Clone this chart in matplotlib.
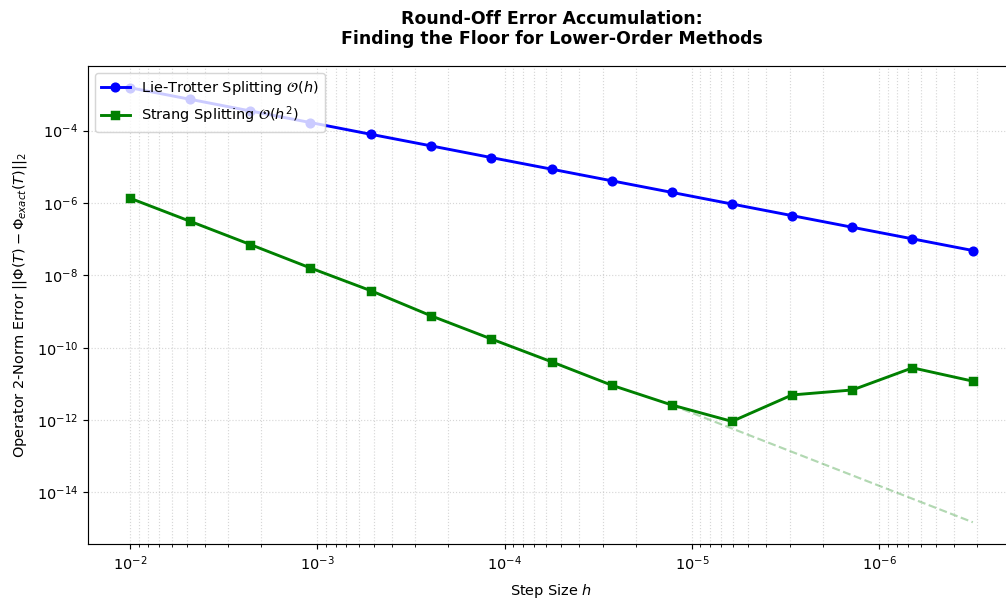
import numpy as np
import matplotlib
matplotlib.use("Agg")
import matplotlib.pyplot as plt

# Step sizes (log-spaced from 1e-2 to 10^-6.5)
h = [1.0e-2, 4.77e-3, 2.28e-3, 1.09e-3, 5.18e-4, 2.47e-4, 1.18e-4, 5.62e-5,
     2.68e-5, 1.28e-5, 6.11e-6, 2.92e-6, 1.39e-6, 6.64e-7, 3.16e-7]

lie_trotter = [1.53e-3, 7.3e-4, 3.49e-4, 1.67e-4, 7.9e-5, 3.78e-5, 1.80e-5, 8.6e-6,
               4.1e-6, 1.96e-6, 9.35e-7, 4.47e-7, 2.13e-7, 1.02e-7, 4.85e-8]

strang = [1.35e-6, 3.1e-7, 7.1e-8, 1.6e-8, 3.76e-9, 7.6e-10, 1.75e-10, 4.09e-11,
          9.2e-12, 2.61e-12, 9.2e-13, 4.95e-12, 6.8e-12, 2.78e-11, 1.19e-11]

# Ideal O(h^2) reference segment endpoints
ideal_h = [1.28e-5, 3.16e-7]
ideal_err = [2.6e-12, 1.5e-15]

DPI = 104
fig = plt.figure(figsize=(1006 / DPI, 601 / DPI), dpi=DPI)
ax = fig.add_axes([88/1006, 1 - 544/601, (1015 - 88)/1006, (544 - 66)/601])

ax.loglog(h, lie_trotter, 'o-', color='blue', lw=2, ms=6,
          label=r'Lie-Trotter Splitting $\mathcal{O}(h)$')
ax.loglog(h, strang, 's-', color='green', lw=2, ms=6,
          label=r'Strang Splitting $\mathcal{O}(h^2)$')
ax.loglog(ideal_h, ideal_err, '--', color='green', alpha=0.3, lw=1.5)

ax.invert_xaxis()
ax.grid(True, which='both', linestyle=':', linewidth=0.8, alpha=0.5)

ax.set_xlabel(r'Step Size $h$', labelpad=6.5)
ax.set_ylabel(r'Operator 2-Norm Error $||\Phi(T) - \Phi_{exact}(T)||_2$', labelpad=5.5)
ax.set_title('Round-Off Error Accumulation:\nFinding the Floor for Lower-Order Methods',
             fontsize=12, fontweight='bold', pad=15)
ax.legend(loc='upper left')

fig.savefig('out.png', dpi=DPI)
